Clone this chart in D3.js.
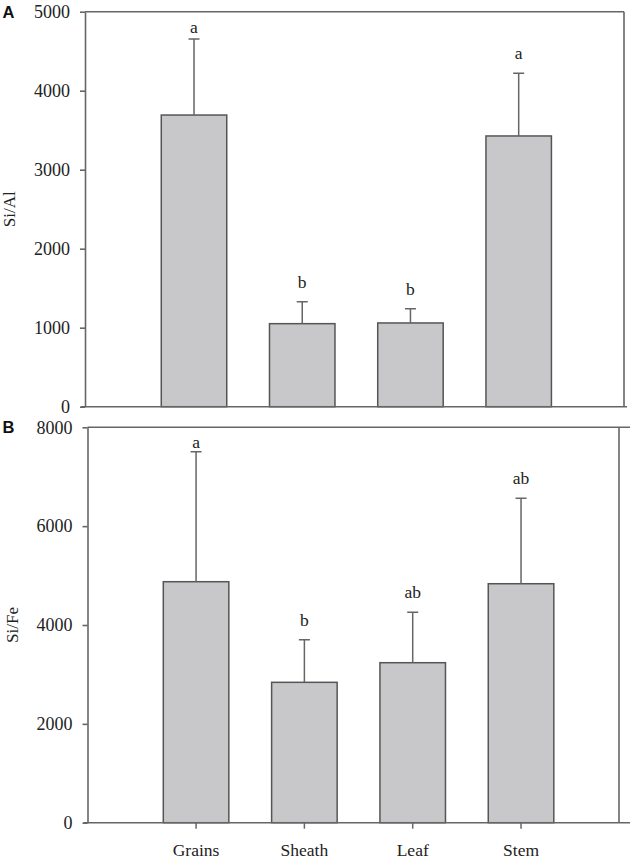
<!DOCTYPE html>
<html>
<head>
<meta charset="utf-8">
<script src="https://cdn.jsdelivr.net/npm/d3@7"></script>
<style>
  body { margin: 0; background: #fff; }
  svg { display: block; }
</style>
</head>
<body>
<div id="chart"></div>
<script>
// values
const categories = ['Grains', 'Sheath', 'Leaf', 'Stem']

const siAl = [3692, 1051, 1060, 3427]
const siAlErr = [962, 278, 181, 793]
const siAlLetters = ['a', 'b', 'b', 'a']
const siAlTicks = [0, 1000, 2000, 3000, 4000, 5000]

const siFe = [4876, 2840, 3237, 4835]
const siFeErr = [2630, 862, 1020, 1728]
const siFeLetters = ['a', 'b', 'ab', 'ab']
const siFeTicks = [0, 2000, 4000, 6000, 8000]

const width = 630
const height = 861
const lineColor = '#666'
const serif = '"Liberation Serif", "DejaVu Serif", "Times New Roman", serif'

const svg = d3.select('#chart').append('svg')
  .attr('width', width)
  .attr('height', height)
  .attr('font-family', serif)

const panels = [
  {
    tag: 'A', label: 'Si/Al', values: siAl, err: siAlErr, letters: siAlLetters,
    ticks: siAlTicks, max: 5000,
    left: 85, right: 624, top: 11.7, bottom: 406.7,
    bandRange: [139.9, 572.8], ext: 3, xTicks: false, tagY: 18.3, labelX: 15
  },
  {
    tag: 'B', label: 'Si/Fe', values: siFe, err: siFeErr, letters: siFeLetters,
    ticks: siFeTicks, max: 8000,
    left: 87.5, right: 619, top: 427.3, bottom: 822.7,
    bandRange: [141.9, 575.2], ext: 12, xTicks: true, tagY: 432.7, labelX: 18
  }
]

panels.forEach(p => {
  const g = svg.append('g')

  const x = d3.scaleBand()
    .domain(categories)
    .range(p.bandRange)
    .paddingInner(0.395)
    .paddingOuter(0.1975)

  const y = d3.scaleLinear()
    .domain([0, p.max])
    .range([p.bottom, p.top])

  const rows = categories.map((c, i) => ({
    cat: c, v: p.values[i], e: p.err[i], letter: p.letters[i]
  }))

  // bars
  g.selectAll('.bar')
    .data(rows)
    .enter().append('rect')
    .attr('class', 'bar')
    .attr('x', d => x(d.cat))
    .attr('width', x.bandwidth())
    .attr('y', d => y(d.v))
    .attr('height', d => y(0) - y(d.v))
    .attr('fill', '#c8c8ca')
    .attr('stroke', '#555')
    .attr('stroke-width', 1.5)

  // error bars (upper only)
  const cx = d => x(d.cat) + x.bandwidth() / 2
  g.selectAll('.err')
    .data(rows)
    .enter().append('path')
    .attr('class', 'err')
    .attr('d', d => 'M' + cx(d) + ',' + y(d.v) + 'V' + y(d.v + d.e) +
      'M' + (cx(d) - 5.5) + ',' + y(d.v + d.e) + 'H' + (cx(d) + 5.5))
    .attr('fill', 'none')
    .attr('stroke', lineColor)
    .attr('stroke-width', 1.5)

  // significance letters
  g.selectAll('.letter')
    .data(rows)
    .enter().append('text')
    .attr('class', 'letter')
    .attr('x', cx)
    .attr('y', d => Math.max(y(d.v + d.e) - 14, p.top + 21))
    .attr('text-anchor', 'middle')
    .attr('font-size', 17.5)
    .attr('fill', '#222')
    .text(d => d.letter)

  // frame
  g.append('path')
    .attr('d', 'M' + p.left + ',' + p.top + 'H' + (p.right + (p.xTicks ? p.ext : 0)) +
      'M' + p.right + ',' + p.top + 'V' + p.bottom +
      'M' + (p.left - 4) + ',' + p.bottom + 'H' + (p.right + p.ext))
    .attr('fill', 'none')
    .attr('stroke', lineColor)
    .attr('stroke-width', 1.6)

  // y axis
  const yAxis = g.append('g')
    .attr('transform', 'translate(' + p.left + ',0)')
    .call(d3.axisLeft(y).tickValues(p.ticks).tickFormat(d3.format('d'))
      .tickSize(5).tickSizeOuter(0).tickPadding(10))
    .attr('font-family', serif)
    .attr('font-size', 18)
  yAxis.selectAll('path, line').attr('stroke', lineColor).attr('stroke-width', 1.6)
  yAxis.selectAll('text').attr('fill', '#222')

  // x axis ticks and labels
  if (p.xTicks) {
    const xAxis = g.append('g')
      .attr('transform', 'translate(0,' + p.bottom + ')')
      .call(d3.axisBottom(x).tickSize(6).tickSizeOuter(0).tickPadding(15))
      .attr('font-family', serif)
      .attr('font-size', 17.5)
    xAxis.select('.domain').remove()
    xAxis.selectAll('line').attr('stroke', lineColor).attr('stroke-width', 1.5)
    xAxis.selectAll('text').attr('fill', '#222')
  }

  // y label
  g.append('text')
    .attr('transform', 'translate(' + p.labelX + ',' + (p.top + p.bottom) / 2 + ') rotate(-90)')
    .attr('text-anchor', 'middle')
    .attr('font-size', 17)
    .attr('fill', '#222')
    .text(p.label)

  // panel tag
  g.append('text')
    .attr('x', 2.5)
    .attr('y', p.tagY)
    .attr('font-family', '"Liberation Sans", Arial, sans-serif')
    .attr('font-weight', 'bold')
    .attr('font-size', 16.5)
    .attr('fill', '#111')
    .text(p.tag)
})
</script>
</body>
</html>
